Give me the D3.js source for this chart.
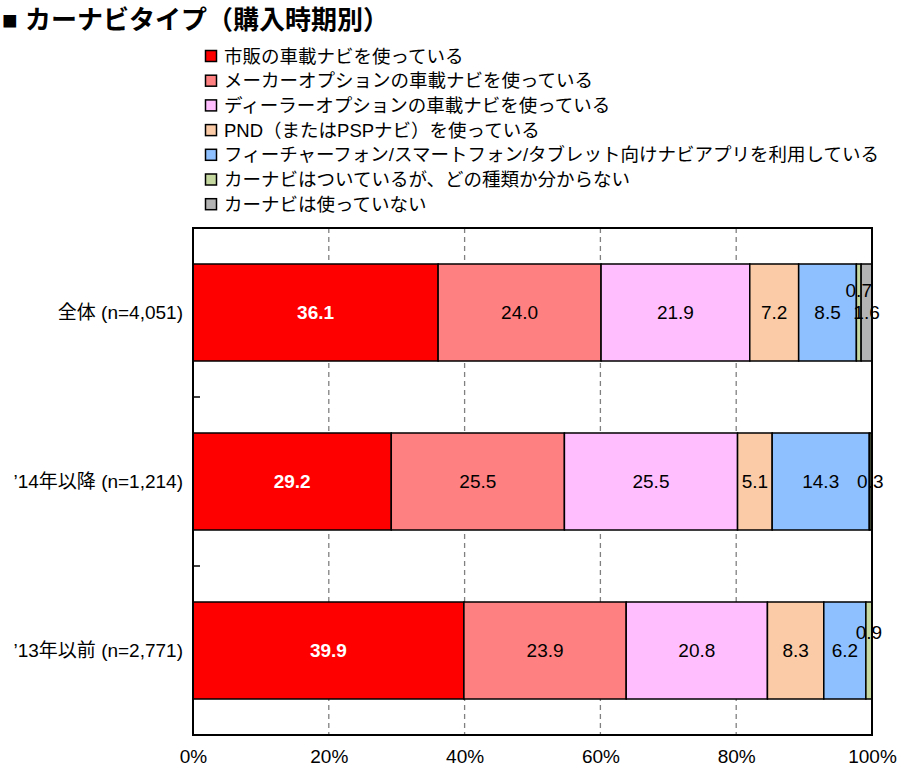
<!DOCTYPE html>
<html><head><meta charset="utf-8">
<script src="https://cdn.jsdelivr.net/npm/d3@7/dist/d3.min.js"></script>
<style>
body{margin:0;background:#fff;}
svg text{font-family:"Liberation Sans","Noto Sans CJK JP",sans-serif;}
</style></head>
<body><svg id="c" width="900" height="767"></svg>
<script>
const title = "■ カーナビタイプ（購入時期別）";
const categories = ["全体 (n=4,051)", "’14年以降 (n=1,214)", "’13年以前 (n=2,771)"];
const seriesNames = [
  "市販の車載ナビを使っている",
  "メーカーオプションの車載ナビを使っている",
  "ディーラーオプションの車載ナビを使っている",
  "PND（またはPSPナビ）を使っている",
  "フィーチャーフォン/スマートフォン/タブレット向けナビアプリを利用している",
  "カーナビはついているが、どの種類か分からない",
  "カーナビは使っていない"
];
const seriesColors = ["#FF0000","#FF8080","#FFBFFF","#FACBA6","#8EC0FF","#C4D8A0","#B3B3B3"];
const s1 = [36.1, 29.2, 39.9];
const s2 = [24.0, 25.5, 23.9];
const s3 = [21.9, 25.5, 20.8];
const s4 = [7.2, 5.1, 8.3];
const s5 = [8.5, 14.3, 6.2];
const s6 = [0.7, 0.3, 0.9];
const s7 = [1.6, 0.1, 0.0];
const xTicks = [0, 20, 40, 60, 80, 100];

const series = [s1,s2,s3,s4,s5,s6,s7];
const svg = d3.select("#c");
const L = 193, R = 872, T = 228, B = 735;

const x = d3.scaleLinear().domain([0,100]).range([L,R]);
const y = d3.scaleBand().domain(categories).range([T,B]).paddingInner(0.426).paddingOuter(0.213);

// title
svg.append("text").attr("x",2).attr("y",29).attr("font-size",26).attr("font-weight","bold")
  .attr("font-family","'Noto Sans CJK JP',sans-serif").text(title);

// legend
const lg = svg.append("g");
seriesNames.forEach((n,i)=>{
  const cy = 56 + i*24.7;
  lg.append("rect").attr("x",205.5).attr("y",cy-5.5).attr("width",11).attr("height",11)
    .attr("fill",seriesColors[i]).attr("stroke","#000").attr("stroke-width",1.5);
  lg.append("text").attr("x",224).attr("y",cy).attr("dy","0.36em").attr("font-size",18.5).text(n);
});

// gridlines
svg.append("g").selectAll("line").data(xTicks.filter(d=>d>0&&d<100)).join("line")
  .attr("x1",d=>x(d)).attr("x2",d=>x(d)).attr("y1",T).attr("y2",B)
  .attr("stroke","#808080").attr("stroke-width",1.3).attr("stroke-dasharray","5,4");

// bars
const stacked = d3.stack().keys(d3.range(series.length))
  .value((d,k)=>series[k][d])(d3.range(categories.length));
const labelDy = {"0-5":-22,"2-5":-18};
stacked.forEach((layer,k)=>{
  const g = svg.append("g");
  layer.forEach((d,i)=>{
    const w = x(d[1])-x(d[0]);
    if (series[k][i] <= 0) return;
    g.append("rect").attr("x",x(d[0])).attr("y",y(categories[i]))
      .attr("width",w).attr("height",y.bandwidth())
      .attr("fill",seriesColors[k]).attr("stroke","#000").attr("stroke-width",1.5);
  });
});
stacked.forEach((layer,k)=>{
  layer.forEach((d,i)=>{
    const v = series[k][i];
    if (v < 0.2) return;
    const dy = labelDy[i+"-"+k] || 0;
    svg.append("text").attr("x",x((d[0]+d[1])/2)).attr("y",y(categories[i])+y.bandwidth()/2+dy)
      .attr("dy","0.36em").attr("text-anchor","middle").attr("font-size",19)
      .attr("font-weight",k===0?"bold":"normal").attr("fill",k===0?"#fff":"#000")
      .text(v.toFixed(1));
  });
});

// frame
svg.append("rect").attr("x",L).attr("y",T).attr("width",R-L).attr("height",B-T)
  .attr("fill","none").attr("stroke","#000").attr("stroke-width",2);

// y axis
const yAxis = svg.append("g").attr("transform",`translate(${L},0)`)
  .call(d3.axisLeft(y).tickSize(0).tickPadding(10));
yAxis.select(".domain").remove();
yAxis.selectAll("text").attr("font-size",19).attr("fill","#000")
  .attr("font-family","'Liberation Sans','Noto Sans CJK JP',sans-serif");
// tick marks between categories
svg.append("g").selectAll("line").data([1,2]).join("line")
  .attr("x1",L).attr("x2",L+7)
  .attr("y1",d=>T+y.step()*d).attr("y2",d=>T+y.step()*d)
  .attr("stroke","#000").attr("stroke-width",1.5);

// x axis
const xAxis = svg.append("g").attr("transform",`translate(0,${B})`)
  .call(d3.axisBottom(x).tickValues(xTicks).tickFormat(d=>d+"%").tickSize(0).tickPadding(15));
xAxis.select(".domain").remove();
xAxis.selectAll("text").attr("font-size",19).attr("fill","#000")
  .attr("font-family","'Liberation Sans',sans-serif");
</script></body></html>
